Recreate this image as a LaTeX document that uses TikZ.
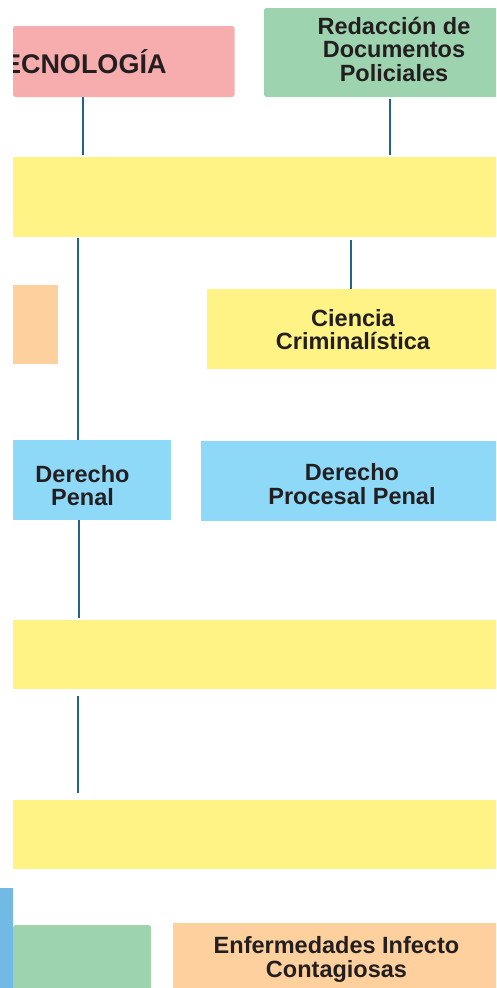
\documentclass[tikz,border=0pt]{standalone}
\usepackage{fontspec}
\setmainfont{Liberation Sans}
\definecolor{pinkc}{HTML}{F7ACAE}
\definecolor{greenc}{HTML}{9DD3AE}
\definecolor{yellowc}{HTML}{FFF385}
\definecolor{peachc}{HTML}{FDD09D}
\definecolor{bluec}{HTML}{8ED8F8}
\definecolor{bluedk}{HTML}{73B9E5}
\definecolor{linec}{HTML}{23628A}
\definecolor{txtc}{HTML}{231F20}
\tikzset{
  box/.style={rectangle, draw=none, inner sep=0pt, outer sep=0pt, anchor=north west},
  rbox/.style={box, rounded corners=2.5pt},
  lbl/.style={inner sep=0pt, outer sep=0pt, align=center, text=txtc,
    font={\bfseries\fontsize{23.5}{23.5}\selectfont}},
  conn/.style={draw=linec, line width=1.6pt}
}
\begin{document}
\begin{tikzpicture}[x=1pt,y=-1pt]
\useasboundingbox (0,0) rectangle (496,988);
\clip (0,0) rectangle (496,988);
% boxes
\node[rbox, fill=pinkc, minimum width=221.5pt, minimum height=71pt] (tec) at (13,26) {};
\node[rbox, fill=greenc, minimum width=250pt, minimum height=89pt] (red) at (264,8) {};
\node[box, fill=yellowc, minimum width=500pt, minimum height=80pt] (y1) at (13,157) {};
\node[box, fill=peachc, minimum width=45pt, minimum height=79pt] (pch) at (13,285) {};
\node[box, fill=yellowc, minimum width=300pt, minimum height=80pt] (cc) at (207,289) {};
\node[box, fill=bluec, minimum width=158pt, minimum height=80pt] (dp) at (13,440) {};
\node[box, fill=bluec, minimum width=300pt, minimum height=80pt] (dpp) at (201,441) {};
\node[box, fill=yellowc, minimum width=500pt, minimum height=69pt] (y2) at (13,620) {};
\node[box, fill=yellowc, minimum width=500pt, minimum height=69pt] (y3) at (13,800) {};
\node[box, fill=bluedk, minimum width=13pt, minimum height=110pt] (bs) at (0,888) {};
\node[rbox, fill=greenc, minimum width=138pt, minimum height=80pt] (g2) at (13,925) {};
\node[box, fill=peachc, minimum width=330pt, minimum height=70pt] (ei) at (173,923) {};
% labels
\begin{scope}
\clip (13,26) rectangle (234.5,97);
\node[lbl, anchor=base west, font={\bfseries\fontsize{27}{27}\selectfont}] (tecL) at (3,73.3) {ECNOLOGÍA};
\end{scope}
\node[lbl] (redL) at (394,49) {Redacción de\\Documentos\\Policiales};
\node[lbl] (ccL) at (353,329.5) {Ciencia\\Criminalística};
\node[lbl] (dpL) at (82.5,485.5) {Derecho\\Penal};
\node[lbl] (dppL) at (352,484) {Derecho\\Procesal Penal};
\node[lbl] (eiL) at (336.5,959.5) {Enfermedades Infecto\\Contagiosas};
% connectors
\coordinate (c1) at (83,0);
\coordinate (c2) at (390,0);
\coordinate (c3) at (78,0);
\coordinate (c4) at (351,0);
\coordinate (c5) at (79,0);
\coordinate (c6) at (78,0);
\draw[conn] (tec.south -| c1) -- ([yshift=2.5pt]y1.north -| c1);
\draw[conn] ([yshift=-2pt]red.south -| c2) -- ([yshift=2pt]y1.north -| c2);
\draw[conn] ([yshift=-1pt]y1.south -| c3) -- (dp.north -| c3);
\draw[conn] ([yshift=-3pt]y1.south -| c4) -- (cc.north -| c4);
\draw[conn] (dp.south -| c5) -- ([yshift=2.5pt]y2.north -| c5);
\draw[conn] ([yshift=-7pt]y2.south -| c6) -- ([yshift=7pt]y3.north -| c6);
\end{tikzpicture}
\end{document}
